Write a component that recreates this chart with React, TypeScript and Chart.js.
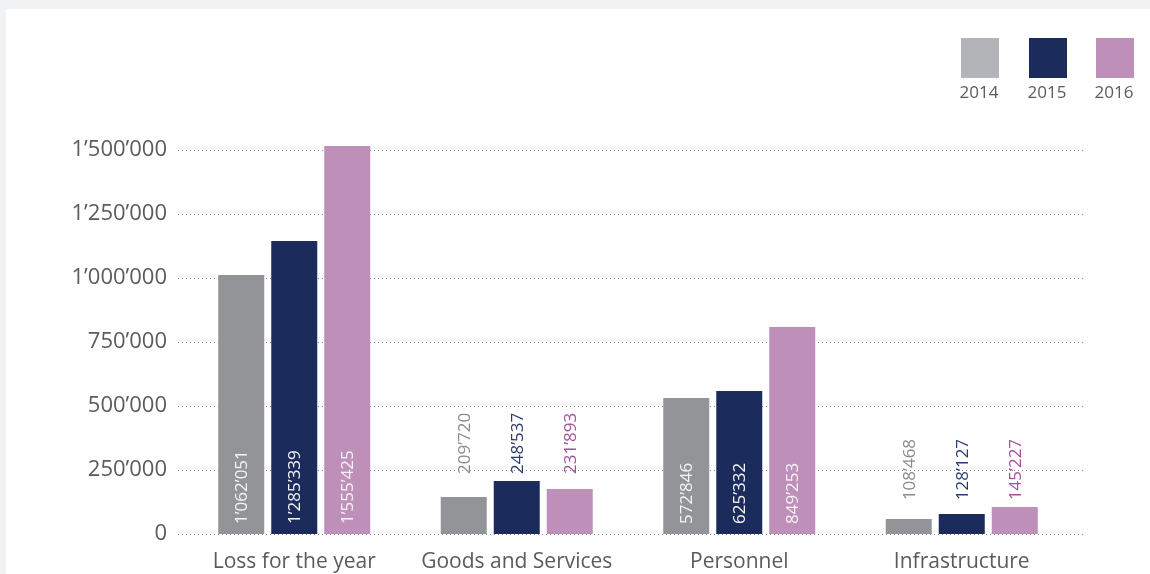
import React, { useEffect, useRef } from "react";
import { Chart, registerables } from "chart.js";

Chart.register(...registerables);

const categories = ["Loss for the year", "Goods and Services", "Personnel", "Infrastructure"];
const years = ["2014", "2015", "2016"];
// bar heights as drawn in the reference
const values2014 = [1012000, 144500, 531000, 58600];
const values2015 = [1144500, 207000, 559000, 78000];
const values2016 = [1516000, 176000, 809000, 105000];
// printed value labels
const labels2014 = ["1’062’051", "209’720", "572’846", "108’468"];
const labels2015 = ["1’285’339", "248’537", "625’332", "128’127"];
const labels2016 = ["1’555’425", "231’893", "849’253", "145’227"];
const labelInside = [true, false, true, false];
const yTicks = [0, 250000, 500000, 750000, 1000000, 1250000, 1500000];

const barColors = ["#939497", "#1b2b5b", "#be8fb9"];
const legendColors = ["#b3b4b7", "#1b2b5b", "#be8fb9"];
const outsideLabelColors = ["#8a8b8e", "#2b3b70", "#a4509c"];
const textColor = "#5b5b5b";
const FONT = "'Open Sans', sans-serif";

function fmt(v: number): string {
  return String(v).replace(/\B(?=(\d{3})+(?!\d))/g, "’");
}

export default function App() {
  const ref = useRef<HTMLCanvasElement | null>(null);
  useEffect(() => {
    document.body.style.margin = "0";
    document.body.style.background = "#f1f2f4";
    const canvas = ref.current!;
    const allLabels = [labels2014, labels2015, labels2016];

    const gridPlugin = {
      id: "dottedGrid",
      beforeDatasetsDraw(chart: any) {
        const ctx = chart.ctx;
        const y = chart.scales.y;
        ctx.save();
        ctx.strokeStyle = "#8c8c8c";
        ctx.lineWidth = 1;
        ctx.setLineDash([1, 3]);
        for (const t of yTicks) {
          const py = Math.round(y.getPixelForValue(t)) + 0.5;
          ctx.beginPath();
          ctx.moveTo(178, py);
          ctx.lineTo(1085, py);
          ctx.stroke();
        }
        ctx.restore();
      },
    };

    const labelPlugin = {
      id: "valueLabels",
      afterDatasetsDraw(chart: any) {
        const ctx = chart.ctx;
        ctx.save();
        ctx.font = `17px ${FONT}`;
        ctx.textBaseline = "middle";
        ctx.textAlign = "left";
        const metas = [0, 1, 2].map((i) => chart.getDatasetMeta(i));
        categories.forEach((_, ci) => {
          const tops = metas.map((m: any) => m.data[ci].y);
          const minTop = Math.min(...tops);
          metas.forEach((m: any, di: number) => {
            const el = m.data[ci];
            const text = allLabels[di][ci];
            let startY: number;
            if (labelInside[ci]) {
              ctx.fillStyle = "#f4f4f6";
              startY = el.base - 10;
            } else {
              ctx.fillStyle = outsideLabelColors[di];
              startY = minTop - 7;
            }
            ctx.save();
            ctx.translate(el.x + 1, startY);
            ctx.rotate(-Math.PI / 2);
            ctx.fillText(text, 0, 0);
            ctx.restore();
          });
        });
        ctx.restore();
      },
    };

    const legendPlugin = {
      id: "customLegend",
      afterDraw(chart: any) {
        const ctx = chart.ctx;
        ctx.save();
        const lefts = [961, 1029, 1096];
        ctx.font = `17px ${FONT}`;
        ctx.textAlign = "center";
        ctx.textBaseline = "middle";
        years.forEach((yr, i) => {
          ctx.fillStyle = legendColors[i];
          ctx.fillRect(lefts[i], 38, 38, 40);
          ctx.fillStyle = textColor;
          ctx.fillText(yr, lefts[i] + 18, 93);
        });
        ctx.restore();
      },
    };

    const chart = new Chart(canvas, {
      type: "bar",
      data: {
        labels: categories,
        datasets: [values2014, values2015, values2016].map((d, i) => ({
          label: years[i],
          data: d,
          backgroundColor: barColors[i],
          borderWidth: 0,
          categoryPercentage: 0.7146,
          barPercentage: 0.868,
          clip: false as any,
        })),
      },
      options: {
        responsive: false,
        animation: false,
        maintainAspectRatio: false,
        layout: { padding: { top: 150, right: 77, bottom: 0, left: 0 } },
        plugins: {
          legend: { display: false },
          tooltip: { enabled: false },
        },
        scales: {
          x: {
            grid: { display: false, drawTicks: false },
            border: { display: false },
            ticks: {
              color: textColor,
              font: { family: FONT, size: 21 },
              padding: 15,
              maxRotation: 0,
            },
            afterFit(scale: any) {
              scale.height = 40;
            },
          },
          y: {
            min: 0,
            max: 1500000,
            grid: { display: false, drawTicks: false },
            border: { display: false },
            afterBuildTicks(scale: any) {
              scale.ticks = yTicks.map((v) => ({ value: v }));
            },
            ticks: {
              color: textColor,
              font: { family: FONT, size: 22 },
              padding: 16,
              callback: (v: any) => fmt(Number(v)),
            },
            afterFit(scale: any) {
              scale.width = 183;
            },
          },
        },
      },
      plugins: [gridPlugin, labelPlugin, legendPlugin],
    });
    return () => chart.destroy();
  }, []);

  return (
    <div style={{ position: "relative", width: 1150, height: 574, background: "#f1f2f4", overflow: "hidden" }}>
      <div style={{ position: "absolute", left: 6, top: 9, right: 0, bottom: 0, background: "#ffffff" }} />
      <canvas ref={ref} width={1150} height={574} style={{ position: "absolute", left: 0, top: 0, width: 1150, height: 574 }} />
    </div>
  );
}
